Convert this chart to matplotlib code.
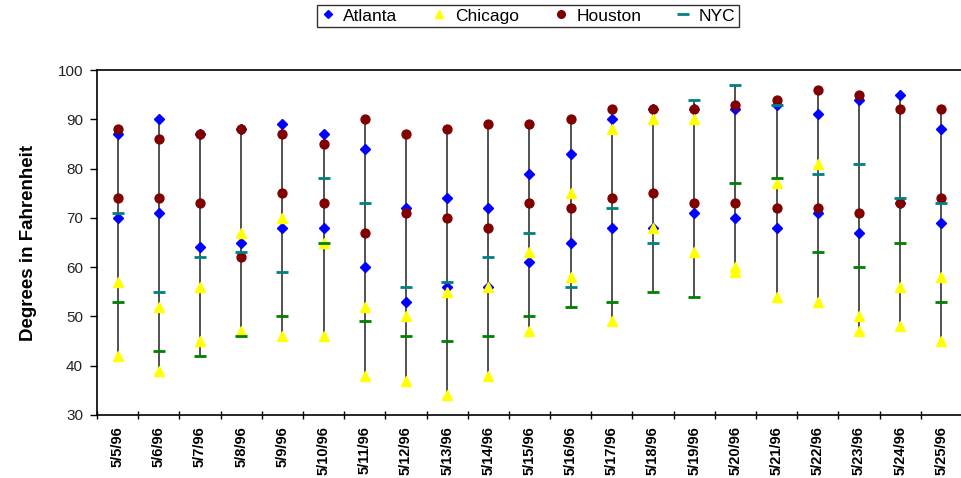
import matplotlib
matplotlib.use("Agg")
import matplotlib.pyplot as plt
from matplotlib.lines import Line2D
import numpy as np

plt.rcParams['font.family'] = ['Liberation Sans', 'DejaVu Sans']

dates = ["5/5/96", "5/6/96", "5/7/96", "5/8/96", "5/9/96", "5/10/96", "5/11/96",
         "5/12/96", "5/13/96", "5/14/96", "5/15/96", "5/16/96", "5/17/96", "5/18/96",
         "5/19/96", "5/20/96", "5/21/96", "5/22/96", "5/23/96", "5/24/96", "5/25/96"]

atlanta_high = [87, 90, 87, 88, 89, 87, 84, 72, 74, 72, 79, 83, 90, 92, 92, 92, 93, 91, 94, 95, 88]
atlanta_low = [70, 71, 64, 65, 68, 68, 60, 53, 56, 56, 61, 65, 68, 68, 71, 70, 68, 71, 67, 73, 69]
chicago_high = [57, 52, 56, 67, 70, 65, 52, 50, 55, 56, 63, 75, 88, 90, 90, 60, 77, 81, 50, 56, 58]
chicago_low = [42, 39, 45, 47, 46, 46, 38, 37, 34, 38, 47, 58, 49, 68, 63, 59, 54, 53, 47, 48, 45]
houston_high = [88, 86, 87, 88, 87, 85, 90, 87, 88, 89, 89, 90, 92, 92, 92, 93, 94, 96, 95, 92, 92]
houston_low = [74, 74, 73, 62, 75, 73, 67, 71, 70, 68, 73, 72, 74, 75, 73, 73, 72, 72, 71, 73, 74]
nyc_high = [71, 55, 62, 63, 59, 78, 73, 56, 57, 62, 67, 56, 72, 65, 94, 97, 93, 79, 81, 74, 73]
nyc_low = [53, 43, 42, 46, 50, 65, 49, 46, 45, 46, 50, 52, 53, 55, 54, 77, 78, 63, 60, 65, 53]

fig = plt.figure(figsize=(9.62, 4.78), dpi=100)
ax = fig.add_axes([97 / 962, 63 / 478, 865 / 962, 345 / 478])

x = np.arange(len(dates))
all_vals = np.array([atlanta_high, atlanta_low, chicago_high, chicago_low,
                     houston_high, houston_low, nyc_high, nyc_low])
ax.vlines(x, all_vals.min(axis=0), all_vals.max(axis=0), color="#222222", lw=1.1, zorder=1)

ms_d, ms_t, ms_c = 4.8, 6.5, 6.4
ax.plot(x, atlanta_high, ls="none", marker="D", ms=ms_d, color="#0000FF", mec="#0000FF", zorder=2)
ax.plot(x, atlanta_low, ls="none", marker="D", ms=ms_d, color="#0000FF", mec="#0000FF", zorder=2)
ax.plot(x, chicago_high, ls="none", marker="^", ms=ms_t, color="#FFFF00", mec="#FFFF00", zorder=4)
ax.plot(x, chicago_low, ls="none", marker="^", ms=ms_t, color="#FFFF00", mec="#FFFF00", zorder=4)
ax.plot(x, houston_high, ls="none", marker="o", ms=ms_c, color="#800000", mec="#800000", zorder=3)
ax.plot(x, houston_low, ls="none", marker="o", ms=ms_c, color="#800000", mec="#800000", zorder=3)
ax.plot(x, nyc_high, ls="none", marker="_", ms=8, mew=2.0, color="#008080", zorder=5)
ax.plot(x, nyc_low, ls="none", marker="_", ms=8, mew=2.0, color="#008000", zorder=5)

ax.set_xlim(-0.5, len(dates) - 0.5)
ax.set_ylim(30, 100)
ax.set_yticks(np.arange(30, 101, 10))
ax.set_yticklabels([str(v) for v in range(30, 101, 10)], fontsize=11, color="#222222")
ax.set_xticks(x)
ax.set_xticklabels(dates, rotation=90, fontsize=10.5, fontweight="bold")
ax.tick_params(axis="x", which="major", length=0, pad=8)
ax.set_xticks(np.arange(-0.5, len(dates), 1.0), minor=True)
ax.tick_params(axis="x", which="minor", length=6, width=1, direction="inout")
ax.tick_params(axis="y", length=5, width=1, direction="out", pad=5)

for s in ["left", "bottom", "top"]:
    ax.spines[s].set_linewidth(1.2)
    ax.spines[s].set_color("black")
ax.spines["right"].set_visible(False)

ax.set_ylabel("Degrees in Fahrenheit", fontsize=13.5, fontweight="bold", labelpad=15)

handles = [
    Line2D([], [], ls="none", marker="D", ms=4, color="#0000FF"),
    Line2D([], [], ls="none", marker="^", ms=5.5, color="#FFFF00"),
    Line2D([], [], ls="none", marker="o", ms=5.5, color="#800000"),
    Line2D([], [], ls="none", marker="_", ms=8, mew=2, color="#008080"),
]
leg = fig.legend(handles, ["Atlanta", "Chicago", "Houston", "NYC"], loc="center",
                 bbox_to_anchor=(528 / 962, 1 - 16 / 478), ncol=4, frameon=True,
                 fancybox=False, edgecolor="black", fontsize=12.5, handlelength=0.8,
                 handletextpad=0.5, columnspacing=2.0, borderpad=0.2)
leg.get_frame().set_linewidth(1.0)

fig.savefig("out.png", dpi=100)
